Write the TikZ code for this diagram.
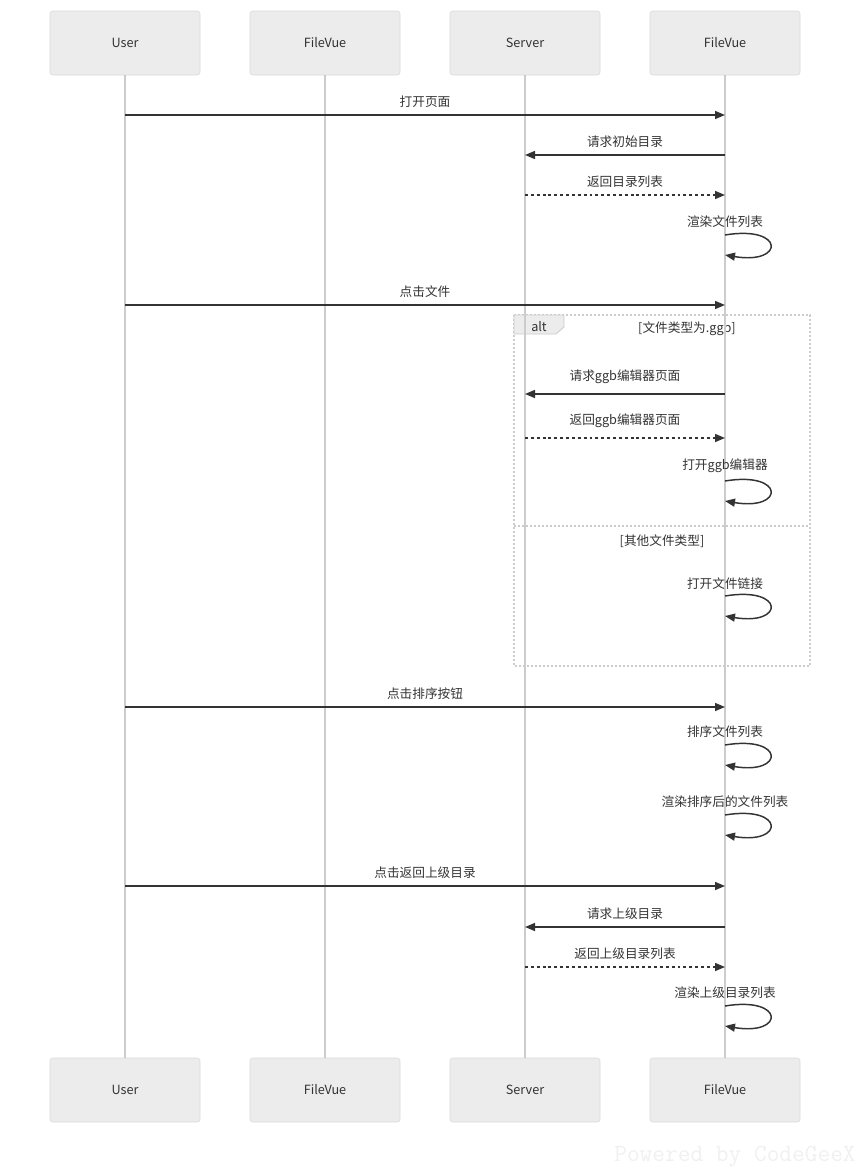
\documentclass[tikz,border=0pt]{standalone}
\usepackage{fontspec}
\setmainfont{Noto Sans CJK SC}
\usetikzlibrary{arrows.meta, positioning}
\definecolor{boxfill}{HTML}{ECECEC}
\definecolor{boxline}{HTML}{DADADA}
\definecolor{lifegray}{HTML}{CCCCCC}
\definecolor{msgcol}{HTML}{333333}
\tikzstyle{actor} = [rectangle, draw=boxline, fill=boxfill, rounded corners=2pt, minimum width=112.5pt, minimum height=48pt, text=msgcol, font=\fontsize{9.5}{12}\selectfont]
\tikzstyle{lifeline} = [draw=lifegray, line width=1.1pt]
\tikzstyle{msg} = [draw=msgcol, line width=1.1pt, -{Triangle[length=7.5pt,width=6pt]}]
\tikzstyle{reply} = [msg, dash pattern=on 2.2pt off 2.2pt]
\tikzstyle{lbl} = [above=5pt, inner sep=0pt, text=msgcol, font=\fontsize{9.5}{12}\selectfont]
\tikzstyle{frame} = [draw=lifegray, line width=0.8pt, dash pattern=on 1.5pt off 1.5pt]

\begin{document}
\begin{tikzpicture}[x=0.75pt, y=-0.75pt]
    \useasboundingbox (0,0) rectangle (862,1174);

    \node (user)    [actor] at (125,43)   {User};
    \node (fvA)     [actor] at (325,43)   {FileVue};
    \node (server)  [actor] at (525,43)   {Server};
    \node (fvB)     [actor] at (725,43)   {FileVue};
    \node (userE)   [actor] at (125,1090) {User};
    \node (fvAE)    [actor] at (325,1090) {FileVue};
    \node (serverE) [actor] at (525,1090) {Server};
    \node (fvBE)    [actor] at (725,1090) {FileVue};

    % alt frame
    \draw [frame] (514,315) rectangle (810,666);
    \draw [frame] (514,526) -- (810,526);
    \draw [draw=lifegray, fill=boxfill, line width=0.6pt] (514,315) -- (564,315) -- (564,327) -- (556,334) -- (514,334) -- cycle;
    \node (alt)   [text=msgcol, font=\fontsize{9.5}{12}\selectfont] at (539,327) {alt};
    \node (cond1) [text=msgcol, font=\fontsize{9.5}{12}\selectfont] at (687,329) {[文件类型为.ggb]};
    \node (cond2) [text=msgcol, font=\fontsize{9.5}{12}\selectfont] at (662,541) {[其他文件类型]};

    \draw [lifeline] (user)   -- (userE);
    \draw [lifeline] (fvA)    -- (fvAE);
    \draw [lifeline] (server) -- (serverE);
    \draw [lifeline] (fvB)    -- (fvBE);

    \coordinate (r1) at (0,115);  \coordinate (r2) at (0,155);  \coordinate (r3) at (0,195);
    \coordinate (r4) at (0,305);  \coordinate (r5) at (0,394);  \coordinate (r6) at (0,438);
    \coordinate (r7) at (0,707);  \coordinate (r8) at (0,886);  \coordinate (r9) at (0,927);
    \coordinate (r10) at (0,967);
    \coordinate (s1) at (0,235);  \coordinate (s2) at (0,481);  \coordinate (s3) at (0,596);
    \coordinate (s4) at (0,745);  \coordinate (s5) at (0,815);  \coordinate (s6) at (0,1006);

    \draw [msg]   (user |- r1)   -- node[lbl]{打开页面} (fvB |- r1);
    \draw [msg]   (fvB |- r2)    -- node[lbl]{请求初始目录} (server |- r2);
    \draw [reply] (server |- r3) -- node[lbl]{返回目录列表} (fvB |- r3);
    \draw [msg]   (fvB |- s1) node[lbl]{渲染文件列表} .. controls +(60,-10) and +(60,10) .. +(0,20);
    \draw [msg]   (user |- r4)   -- node[lbl]{点击文件} (fvB |- r4);
    \draw [msg]   (fvB |- r5)    -- node[lbl, above=7pt]{请求ggb编辑器页面} (server |- r5);
    \draw [reply] (server |- r6) -- node[lbl, above=7pt]{返回ggb编辑器页面} (fvB |- r6);
    \draw [msg]   (fvB |- s2) node[lbl, above=6pt]{打开ggb编辑器} .. controls +(60,-10) and +(60,10) .. +(0,20);
    \draw [msg]   (fvB |- s3) node[lbl, above=4.5pt]{打开文件链接} .. controls +(60,-10) and +(60,10) .. +(0,20);
    \draw [msg]   (user |- r7)   -- node[lbl]{点击排序按钮} (fvB |- r7);
    \draw [msg]   (fvB |- s4) node[lbl]{排序文件列表} .. controls +(60,-10) and +(60,10) .. +(0,20);
    \draw [msg]   (fvB |- s5) node[lbl]{渲染排序后的文件列表} .. controls +(60,-10) and +(60,10) .. +(0,20);
    \draw [msg]   (user |- r8)   -- node[lbl]{点击返回上级目录} (fvB |- r8);
    \draw [msg]   (fvB |- r9)    -- node[lbl]{请求上级目录} (server |- r9);
    \draw [reply] (server |- r10) -- node[lbl]{返回上级目录列表} (fvB |- r10);
    \draw [msg]   (fvB |- s6) node[lbl]{渲染上级目录列表} .. controls +(60,-10) and +(60,10) .. +(0,20);

    \node (mark) [text=black!6, font=\fontsize{18.5}{20}\ttfamily] at (735,1157) {Powered by CodeGeeX};
\end{tikzpicture}
\end{document}
